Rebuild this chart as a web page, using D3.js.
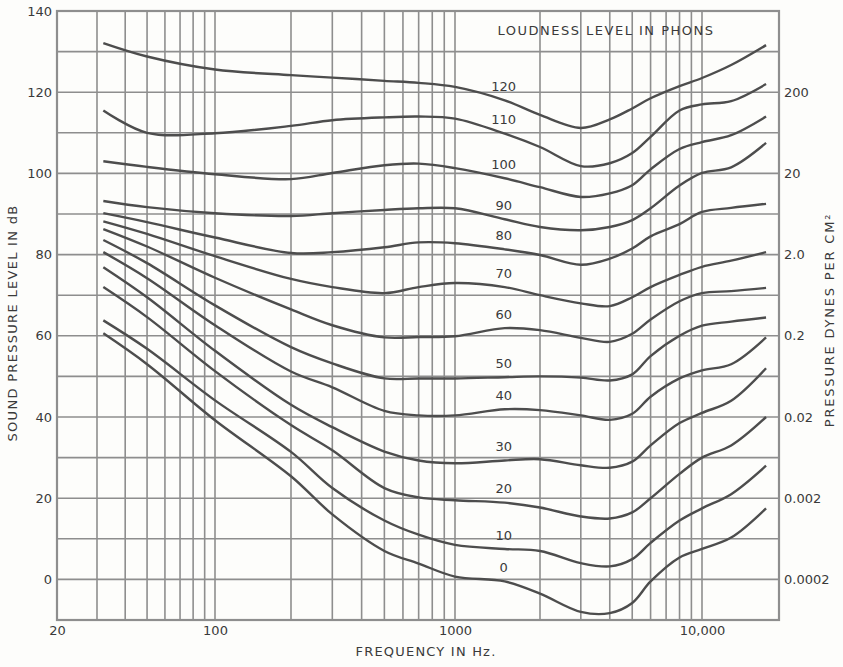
<!DOCTYPE html>
<html>
<head>
<meta charset="utf-8">
<script src="https://cdn.jsdelivr.net/npm/d3@7"></script>
<style>
body { margin: 0; background: #fdfdfb; }
text { font-family: "DejaVu Sans", sans-serif; fill: #3a3a3a; }
</style>
</head>
<body>
<div id="chart"></div>
<script>
// frequency samples (Hz) shared by every loudness contour
var freqs = [32, 50, 100, 200, 300, 500, 700, 1000, 1500, 2000, 3000, 4000, 5000, 6000, 8000, 10000, 13000, 17800];
var phons = [0, 10, 20, 30, 40, 50, 60, 70, 80, 90, 100, 110, 120];

// sound pressure level (dB) of each contour at freqs
var spl0   = [60.6, 53, 39.2, 25.4, 16, 7, 3.9, 0.7, -0.5, -3.5, -8, -8.3, -5.8, -0.5, 5.4, 7.5, 10.3, 17.5];
var spl10  = [63.8, 56.8, 44.1, 31.4, 22.5, 14.5, 11, 8.5, 7.5, 7, 4, 3.2, 5, 9, 14.5, 17.5, 21, 28];
var spl20  = [72, 64.6, 51.3, 38, 31.8, 22.5, 20.2, 19.5, 18.9, 17.7, 15.5, 15, 16.5, 20, 26, 30, 33, 40];
var spl30  = [76.9, 69.5, 56.3, 43, 37.5, 31.5, 29.3, 28.6, 29.3, 29.6, 28.1, 27.5, 29, 33, 38.5, 41, 44, 52];
var spl40  = [80.6, 74.2, 62.6, 51.2, 47.3, 41.5, 40.4, 40.4, 41.9, 41.7, 40.4, 39.3, 40.8, 45, 49.5, 51.5, 53, 59.6];
var spl50  = [83.6, 77.9, 67.5, 57.2, 53.2, 49.5, 49.5, 49.5, 49.8, 50, 49.7, 49, 50.5, 55, 60, 62.5, 63.5, 64.5];
var spl60  = [86.3, 82, 74.3, 66.5, 62.6, 59.6, 59.7, 59.9, 61.9, 61.4, 59.5, 58.5, 60.5, 64, 68.5, 70.5, 71, 71.8];
var spl70  = [88.2, 85.1, 79.6, 74, 72, 70.5, 72, 73, 72, 70, 68, 67.3, 69.5, 72, 75, 77, 78.5, 80.6];
var spl80  = [90.2, 88, 84.2, 80.4, 80.6, 81.8, 83, 82.8, 81.3, 79.9, 77.5, 79, 81.5, 84.5, 87.5, 90.5, 91.5, 92.5];
var spl90  = [93.2, 91.7, 90.2, 89.5, 90.2, 91, 91.4, 91.4, 88.7, 86.8, 86, 86.8, 88.5, 91.4, 97, 100.1, 101.5, 107.5];
var spl100 = [103, 101.6, 99.8, 98.6, 100.1, 102, 102.4, 101.3, 98.8, 96.6, 94.2, 95.1, 97.1, 101, 106, 107.7, 109.4, 114];
var spl110 = [115.5, 110, 109.9, 111.7, 113.1, 113.8, 114, 113.5, 109.8, 106.5, 101.8, 102.5, 105, 109, 115.5, 117, 117.8, 122];
var spl120 = [132.1, 128.8, 125.6, 124.2, 123.6, 122.8, 122.3, 121.3, 118, 114.4, 111.2, 113.3, 116, 118.5, 121.5, 123.5, 126.7, 131.6];

var freqTicks = [20, 100, 1000, 10000];
var splTicks = [0, 20, 40, 60, 80, 100, 120, 140];
var pressureTicks = [0.0002, 0.002, 0.02, 0.2, 2, 20, 200];
var pressureLabels = ["0.0002", "0.002", "0.02", "0.2", "2.0", "20", "200"];

var curves = [spl0, spl10, spl20, spl30, spl40, spl50, spl60, spl70, spl80, spl90, spl100, spl110, spl120]
  .map(function(v, i) { return {phon: phons[i], values: v}; });

var width = 843, height = 667;
var plotL = 57, plotR = 779, plotT = 11, plotB = 620;

var svg = d3.select("#chart")
  .append("svg")
  .attr("width", width)
  .attr("height", height);

// the printed grid is not a perfect log paper, so pin it at a few decades
var x = d3.scaleLog()
  .domain([20, 30, 100, 200, 1000, 2000, 10000, 20000])
  .range([plotL, 97, 215, 291, 455, 540, 702, plotR]);

var y = d3.scaleLinear()
  .domain([-10, 140])
  .range([plotB, plotT]);

// dynes per cm2, 0 dB = 0.0002
var p = d3.scaleLog()
  .domain([0.0002 * Math.pow(10, -10 / 20), 0.0002 * Math.pow(10, 140 / 20)])
  .range([plotB, plotT]);

var gridColor = "#8e8e8e";

// vertical grid: 30..100..1000..10000 Hz
var gridF = [];
[10, 100, 1000].forEach(function(d) {
  for (var m = 2; m <= 10; m++) if (m * d > 20) gridF.push(m * d);
});

svg.append("g")
  .selectAll("line")
  .data(gridF)
  .enter().append("line")
    .attr("x1", function(d) { return x(d); })
    .attr("x2", function(d) { return x(d); })
    .attr("y1", plotT)
    .attr("y2", plotB)
    .attr("stroke", gridColor)
    .attr("stroke-width", 1.6);

svg.append("g")
  .selectAll("line")
  .data(d3.range(0, 140, 10))
  .enter().append("line")
    .attr("x1", plotL)
    .attr("x2", plotR)
    .attr("y1", function(d) { return y(d); })
    .attr("y2", function(d) { return y(d); })
    .attr("stroke", gridColor)
    .attr("stroke-width", 1.6);

svg.append("rect")
  .attr("x", plotL)
  .attr("y", plotT)
  .attr("width", plotR - plotL)
  .attr("height", plotB - plotT)
  .attr("fill", "none")
  .attr("stroke", gridColor)
  .attr("stroke-width", 2.2);

// contours
var line = d3.line()
  .x(function(d) { return x(d[0]); })
  .y(function(d) { return y(d[1]); })
  .curve(d3.curveCatmullRom.alpha(0.5));

svg.append("g")
  .selectAll("path")
  .data(curves)
  .enter().append("path")
    .attr("d", function(c) { return line(c.values.map(function(v, i) { return [freqs[i], v]; })); })
    .attr("fill", "none")
    .attr("stroke", "#4d4d4d")
    .attr("stroke-width", 2.4);

// phon labels sit just above each contour at 1500 Hz
var labelIdx = freqs.indexOf(1500);
svg.append("g")
  .selectAll("text")
  .data(curves)
  .enter().append("text")
    .attr("x", x(1500) - 1)
    .attr("y", function(c) { return y(c.values[labelIdx]) - 14; })
    .attr("dy", "0.35em")
    .attr("text-anchor", "middle")
    .attr("font-size", 13)
    .text(function(c) { return c.phon; });

// axes
var gx = svg.append("g")
  .attr("transform", "translate(0," + plotB + ")")
  .call(d3.axisBottom(x).tickValues(freqTicks).tickSize(0).tickPadding(6)
    .tickFormat(function(d) { return d >= 10000 ? d3.format(",")(d) : d; }));
var gy = svg.append("g")
  .attr("transform", "translate(" + plotL + ",0)")
  .call(d3.axisLeft(y).tickValues(splTicks).tickSize(0).tickPadding(5));
var gp = svg.append("g")
  .attr("transform", "translate(" + plotR + ",0)")
  .call(d3.axisRight(p).tickValues(pressureTicks).tickSize(0).tickPadding(5)
    .tickFormat(function(d, i) { return pressureLabels[i]; }));

[gx, gy, gp].forEach(function(g) {
  g.select(".domain").remove();
  g.selectAll("text")
    .attr("font-family", "DejaVu Sans, sans-serif")
    .attr("font-size", 13)
    .attr("fill", "#3a3a3a");
});

// titles
svg.append("text")
  .attr("x", 606)
  .attr("y", 35)
  .attr("text-anchor", "middle")
  .attr("font-size", 13)
  .attr("letter-spacing", 1.5)
  .text("LOUDNESS LEVEL IN PHONS");

svg.append("text")
  .attr("x", 426)
  .attr("y", 656)
  .attr("text-anchor", "middle")
  .attr("font-size", 13)
  .attr("letter-spacing", 1.2)
  .text("FREQUENCY IN Hz.");

svg.append("text")
  .attr("transform", "translate(17,323) rotate(-90)")
  .attr("text-anchor", "middle")
  .attr("font-size", 13)
  .attr("letter-spacing", 1.3)
  .text("SOUND PRESSURE LEVEL IN dB");

svg.append("text")
  .attr("transform", "translate(834,320) rotate(-90)")
  .attr("text-anchor", "middle")
  .attr("font-size", 13)
  .attr("letter-spacing", 1.8)
  .text("PRESSURE DYNES PER CM\u00b2");
</script>
</body>
</html>
